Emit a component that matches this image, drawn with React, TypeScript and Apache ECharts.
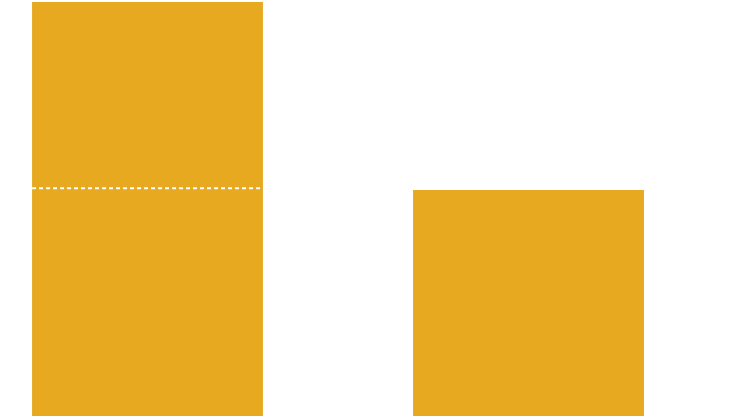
import React, { useRef, useEffect } from 'react';
import * as echarts from 'echarts';

// chart data
const categories = ['A', 'B'];
const barValues = [100, 54.6];
const markerValues = [[0, 55.0]]; // [category index, value] for the dashed marker on the first bar

const BAR_RATIO = 0.606;
const BAR_COLOR = '#E6A920';

const App: React.FC = () => {
  const chartRef = useRef<HTMLDivElement>(null);

  useEffect(() => {
    if (!chartRef.current) return;
    const chart = echarts.init(chartRef.current, null, { renderer: 'svg' });

    chart.setOption({
      animation: false,
      backgroundColor: '#ffffff',
      grid: { left: 0, right: 0, top: 2, bottom: 0 },
      xAxis: {
        type: 'category',
        data: categories,
        show: false,
      },
      yAxis: {
        type: 'value',
        min: 0,
        max: 100,
        show: false,
        splitLine: { show: false },
      },
      series: [
        {
          type: 'bar',
          data: barValues,
          barWidth: `${BAR_RATIO * 100}%`,
          itemStyle: { color: BAR_COLOR },
          silent: true,
        },
        {
          type: 'custom',
          data: markerValues,
          z: 10,
          silent: true,
          renderItem: (params: any, api: any) => {
            const p = api.coord([api.value(0), api.value(1)]);
            const band = api.size([1, 0])[0];
            const half = (band * BAR_RATIO) / 2;
            return {
              type: 'line',
              shape: { x1: p[0] - half, y1: p[1], x2: p[0] + half, y2: p[1] },
              style: { stroke: '#ffffff', lineWidth: 2, lineDash: [4, 3] },
            };
          },
        },
      ],
    });

    return () => {
      chart.dispose();
    };
  }, []);

  return (
    <div
      ref={chartRef}
      style={{ position: 'absolute', left: -43, top: 0, width: 762, height: 416 }}
    />
  );
};

export default App;
